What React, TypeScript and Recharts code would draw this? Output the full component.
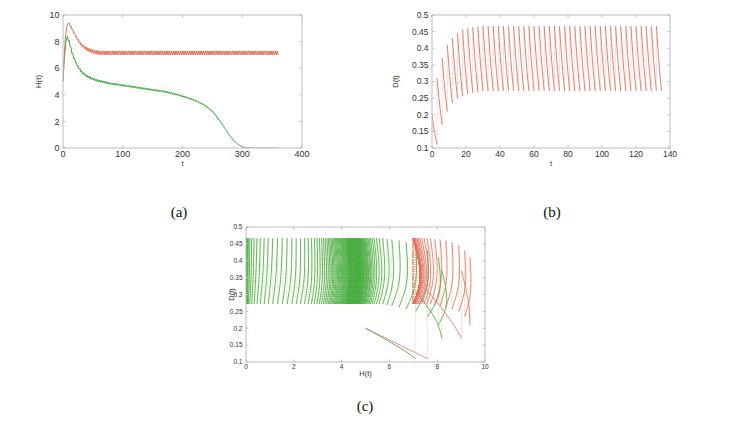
import React from 'react';
import { LineChart, Line, XAxis, YAxis, Label } from 'recharts';

// impulse times (period 3)
const impulseT = [
  0, 3, 6, 9, 12, 15, 18, 21, 24, 27,
  30, 33, 36, 39, 42, 45, 48, 51, 54, 57,
  60, 63, 66, 69, 72, 75, 78, 81, 84, 87,
  90, 93, 96, 99, 102, 105, 108, 111, 114, 117,
  120, 123, 126, 129, 132, 135, 138, 141, 144, 147,
  150, 153, 156, 159, 162, 165, 168, 171, 174, 177,
  180, 183, 186, 189, 192, 195, 198, 201, 204, 207,
  210, 213, 216, 219, 222, 225, 228, 231, 234, 237,
  240, 243, 246, 249, 252, 255, 258, 261, 264, 267,
  270, 273, 276, 279, 282, 285, 288, 291, 294, 297,
  300, 303, 306, 309, 312, 315, 318, 321, 324, 327,
  330, 333, 336, 339, 342, 345, 348, 351, 354, 357,
  360,
];

// D(t): value right after each impulse, half way, and just before the next one
const dAfter = [
  0.2, 0.31, 0.37, 0.41, 0.43, 0.445, 0.455, 0.46, 0.463, 0.465,
  0.467, 0.467, 0.467, 0.467, 0.467, 0.467, 0.467, 0.467, 0.467, 0.467,
  0.467, 0.467, 0.467, 0.467, 0.467, 0.467, 0.467, 0.467, 0.467, 0.467,
  0.467, 0.467, 0.467, 0.467, 0.467, 0.467, 0.467, 0.467, 0.467, 0.467,
  0.467, 0.467, 0.467, 0.467, 0.467, 0.467, 0.467, 0.467, 0.467, 0.467,
  0.467, 0.467, 0.467, 0.467, 0.467, 0.467, 0.467, 0.467, 0.467, 0.467,
  0.467, 0.467, 0.467, 0.467, 0.467, 0.467, 0.467, 0.467, 0.467, 0.467,
  0.467, 0.467, 0.467, 0.467, 0.467, 0.467, 0.467, 0.467, 0.467, 0.467,
  0.467, 0.467, 0.467, 0.467, 0.467, 0.467, 0.467, 0.467, 0.467, 0.467,
  0.467, 0.467, 0.467, 0.467, 0.467, 0.467, 0.467, 0.467, 0.467, 0.467,
  0.467, 0.467, 0.467, 0.467, 0.467, 0.467, 0.467, 0.467, 0.467, 0.467,
  0.467, 0.467, 0.467, 0.467, 0.467, 0.467, 0.467, 0.467, 0.467, 0.467,
];
const dMid = [
  0.148, 0.23, 0.279, 0.31, 0.328, 0.338, 0.345, 0.35, 0.353, 0.355,
  0.356, 0.356, 0.356, 0.356, 0.356, 0.356, 0.356, 0.356, 0.356, 0.356,
  0.356, 0.356, 0.356, 0.356, 0.356, 0.356, 0.356, 0.356, 0.356, 0.356,
  0.356, 0.356, 0.356, 0.356, 0.356, 0.356, 0.356, 0.356, 0.356, 0.356,
  0.356, 0.356, 0.356, 0.356, 0.356, 0.356, 0.356, 0.356, 0.356, 0.356,
  0.356, 0.356, 0.356, 0.356, 0.356, 0.356, 0.356, 0.356, 0.356, 0.356,
  0.356, 0.356, 0.356, 0.356, 0.356, 0.356, 0.356, 0.356, 0.356, 0.356,
  0.356, 0.356, 0.356, 0.356, 0.356, 0.356, 0.356, 0.356, 0.356, 0.356,
  0.356, 0.356, 0.356, 0.356, 0.356, 0.356, 0.356, 0.356, 0.356, 0.356,
  0.356, 0.356, 0.356, 0.356, 0.356, 0.356, 0.356, 0.356, 0.356, 0.356,
  0.356, 0.356, 0.356, 0.356, 0.356, 0.356, 0.356, 0.356, 0.356, 0.356,
  0.356, 0.356, 0.356, 0.356, 0.356, 0.356, 0.356, 0.356, 0.356, 0.356,
];
const dBefore = [
  0.11, 0.17, 0.21, 0.235, 0.25, 0.257, 0.262, 0.266, 0.269, 0.271,
  0.272, 0.272, 0.272, 0.272, 0.272, 0.272, 0.272, 0.272, 0.272, 0.272,
  0.272, 0.272, 0.272, 0.272, 0.272, 0.272, 0.272, 0.272, 0.272, 0.272,
  0.272, 0.272, 0.272, 0.272, 0.272, 0.272, 0.272, 0.272, 0.272, 0.272,
  0.272, 0.272, 0.272, 0.272, 0.272, 0.272, 0.272, 0.272, 0.272, 0.272,
  0.272, 0.272, 0.272, 0.272, 0.272, 0.272, 0.272, 0.272, 0.272, 0.272,
  0.272, 0.272, 0.272, 0.272, 0.272, 0.272, 0.272, 0.272, 0.272, 0.272,
  0.272, 0.272, 0.272, 0.272, 0.272, 0.272, 0.272, 0.272, 0.272, 0.272,
  0.272, 0.272, 0.272, 0.272, 0.272, 0.272, 0.272, 0.272, 0.272, 0.272,
  0.272, 0.272, 0.272, 0.272, 0.272, 0.272, 0.272, 0.272, 0.272, 0.272,
  0.272, 0.272, 0.272, 0.272, 0.272, 0.272, 0.272, 0.272, 0.272, 0.272,
  0.272, 0.272, 0.272, 0.272, 0.272, 0.272, 0.272, 0.272, 0.272, 0.272,
];

// H(t), red case: at each impulse time and half way between impulses
const hRedAt = [
  5, 7.6, 9.02, 9.37, 9.15, 8.9, 8.62, 8.36, 8.12, 7.9,
  7.72, 7.57, 7.45, 7.35, 7.27, 7.2, 7.15, 7.1, 7.07, 7.04,
  7.02, 7.01, 7, 7, 7, 7, 7, 7, 7, 7,
  7, 7, 7, 7, 7, 7, 7, 7, 7, 7,
  7, 7, 7, 7, 7, 7, 7, 7, 7, 7,
  7, 7, 7, 7, 7, 7, 7, 7, 7, 7,
  7, 7, 7, 7, 7, 7, 7, 7, 7, 7,
  7, 7, 7, 7, 7, 7, 7, 7, 7, 7,
  7, 7, 7, 7, 7, 7, 7, 7, 7, 7,
  7, 7, 7, 7, 7, 7, 7, 7, 7, 7,
  7, 7, 7, 7, 7, 7, 7, 7, 7, 7,
  7, 7, 7, 7, 7, 7, 7, 7, 7, 7,
  7,
];
const hRedMid = [
  6.5, 8.5, 9.3, 9.4, 9.18, 8.91, 8.64, 8.4, 8.18, 7.99,
  7.84, 7.73, 7.64, 7.56, 7.5, 7.45, 7.41, 7.37, 7.34, 7.33,
  7.31, 7.3, 7.3, 7.3, 7.3, 7.3, 7.3, 7.3, 7.3, 7.3,
  7.3, 7.3, 7.3, 7.3, 7.3, 7.3, 7.3, 7.3, 7.3, 7.3,
  7.3, 7.3, 7.3, 7.3, 7.3, 7.3, 7.3, 7.3, 7.3, 7.3,
  7.3, 7.3, 7.3, 7.3, 7.3, 7.3, 7.3, 7.3, 7.3, 7.3,
  7.3, 7.3, 7.3, 7.3, 7.3, 7.3, 7.3, 7.3, 7.3, 7.3,
  7.3, 7.3, 7.3, 7.3, 7.3, 7.3, 7.3, 7.3, 7.3, 7.3,
  7.3, 7.3, 7.3, 7.3, 7.3, 7.3, 7.3, 7.3, 7.3, 7.3,
  7.3, 7.3, 7.3, 7.3, 7.3, 7.3, 7.3, 7.3, 7.3, 7.3,
  7.3, 7.3, 7.3, 7.3, 7.3, 7.3, 7.3, 7.3, 7.3, 7.3,
  7.3, 7.3, 7.3, 7.3, 7.3, 7.3, 7.3, 7.3, 7.3, 7.3,
];

// H(t), green case
const hGreenAt = [
  5, 7.1, 8.2, 8.05, 7.6, 7.1, 6.7, 6.4, 6.1, 5.9,
  5.72, 5.57, 5.46, 5.36, 5.28, 5.21, 5.15, 5.1, 5.05, 5.01,
  4.97, 4.94, 4.91, 4.88, 4.85, 4.82, 4.79, 4.77, 4.75, 4.73,
  4.71, 4.69, 4.67, 4.65, 4.63, 4.61, 4.59, 4.57, 4.55, 4.53,
  4.51, 4.49, 4.47, 4.45, 4.43, 4.41, 4.39, 4.37, 4.35, 4.33,
  4.31, 4.29, 4.27, 4.25, 4.23, 4.21, 4.19, 4.16, 4.13, 4.1,
  4.07, 4.04, 4.01, 3.98, 3.94, 3.9, 3.86, 3.82, 3.78, 3.74,
  3.7, 3.65, 3.6, 3.55, 3.5, 3.44, 3.38, 3.31, 3.24, 3.16,
  3.07, 2.97, 2.86, 2.74, 2.6, 2.45, 2.28, 2.1, 1.92, 1.72,
  1.52, 1.32, 1.12, 0.93, 0.76, 0.6, 0.46, 0.34, 0.24, 0.16,
  0.1, 0.06, 0.04, 0.02, 0.01, 0.01, 0, 0, 0, 0,
  0, 0, 0, 0, 0, 0, 0, 0, 0, 0,
  0,
];
const hGreenMid = [
  6.3, 7.9, 8.4, 8.1, 7.57, 7.1, 6.74, 6.43, 6.17, 5.98,
  5.8, 5.68, 5.57, 5.47, 5.4, 5.33, 5.27, 5.22, 5.18, 5.13,
  5.1, 5.07, 5.04, 5.01, 4.98, 4.95, 4.92, 4.9, 4.88, 4.86,
  4.83, 4.81, 4.79, 4.77, 4.75, 4.73, 4.71, 4.69, 4.67, 4.65,
  4.63, 4.61, 4.59, 4.57, 4.55, 4.53, 4.51, 4.49, 4.46, 4.44,
  4.42, 4.4, 4.38, 4.36, 4.34, 4.32, 4.3, 4.27, 4.24, 4.21,
  4.17, 4.14, 4.11, 4.08, 4.04, 4, 3.96, 3.92, 3.87, 3.83,
  3.78, 3.73, 3.68, 3.63, 3.57, 3.51, 3.44, 3.37, 3.29, 3.2,
  3.1, 2.99, 2.88, 2.75, 2.6, 2.44, 2.26, 2.07, 1.88, 1.67,
  1.46, 1.25, 1.05, 0.87, 0.7, 0.55, 0.41, 0.3, 0.21, 0.14,
  0.085, 0.052, 0.032, 0.017, 0.012, 0.007, 0, 0, 0, 0,
  0, 0, 0, 0, 0, 0, 0, 0, 0, 0,
];

// axis ticks
const ticksTA = [0, 100, 200, 300, 400];
const ticksHA = [0, 2, 4, 6, 8, 10];
const ticksTB = [0, 20, 40, 60, 80, 100, 120, 140];
const ticksD = [0.1, 0.15, 0.2, 0.25, 0.3, 0.35, 0.4, 0.45, 0.5];
const ticksHC = [0, 2, 4, 6, 8, 10];
const tEndB = 135;

const RED = '#e26f5c';
const RED_DOT = '#f0a896';
const GREEN = '#3da83a';
const GREEN_DOT = '#bcd97e';
const AXIS = '#bdbdbd';
const TEXT = '#333';
const SANS = '"Liberation Sans", Arial, sans-serif';

type Pt = { x: number; y: number | null };

const overTime = (at: number[], mid: number[]): Pt[] => {
  const pts: Pt[] = [];
  mid.forEach((m, k) => {
    pts.push({ x: impulseT[k], y: at[k] });
    pts.push({ x: (impulseT[k] + impulseT[k + 1]) / 2, y: m });
  });
  pts.push({ x: impulseT[mid.length], y: at[mid.length] });
  return pts;
};

// D(t) teeth up to tEndB, and the dotted jumps between them
const dDecay: Pt[] = [];
const dJump: Pt[] = [];
dMid.forEach((m, k) => {
  const t0 = impulseT[k];
  const t1 = impulseT[k + 1];
  if (t1 > tEndB) return;
  dDecay.push({ x: t0, y: dAfter[k] }, { x: (t0 + t1) / 2, y: m }, { x: t1, y: dBefore[k] }, { x: t1, y: null });
  if (t1 < tEndB) dJump.push({ x: t1, y: dBefore[k] }, { x: t1, y: dAfter[k + 1] }, { x: t1, y: null });
});

// phase plane (H, D)
const phase = (h: number[], hm: number[]) => {
  const arcs: Pt[] = [];
  const jumps: Pt[] = [];
  hm.forEach((m, k) => {
    arcs.push({ x: h[k], y: dAfter[k] }, { x: m, y: dMid[k] }, { x: h[k + 1], y: dBefore[k] }, { x: h[k + 1], y: null });
    if (k + 1 < hm.length) jumps.push({ x: h[k + 1], y: dBefore[k] }, { x: h[k + 1], y: dAfter[k + 1] }, { x: h[k + 1], y: null });
  });
  return { arcs, jumps };
};
const phaseGreen = phase(hGreenAt, hGreenMid);
const phaseRed = phase(hRedAt, hRedMid);

type Series = { data: Pt[]; color: string; width: number; dash?: string; curve: 'linear' | 'natural' };

type PanelProps = {
  box: { left: number; top: number; w: number; h: number };
  xDomain: [number, number];
  xTicks: number[];
  yDomain: [number, number];
  yTicks: number[];
  tickSize: number;
  labelSize: number;
  xLabel: string;
  yLabel: string;
  xLabelDy: number;
  yLabelDx: number;
  series: Series[];
};

const TL = 2.5;

function Panel(p: PanelProps) {
  const W = p.box.w + 70;
  const H = p.box.h + 34;
  const fs = p.tickSize;

  const bottomTick = (t: any) => (
    <g>
      <line x1={t.x} y1={t.y} x2={t.x} y2={t.y - TL} stroke={AXIS} />
      <text x={t.x} y={t.y + fs * 0.8 + 2} textAnchor="middle" fontSize={fs} fill={TEXT} fontFamily={SANS}>
        {t.payload.value}
      </text>
    </g>
  );
  const leftTick = (t: any) => (
    <g>
      <line x1={t.x} y1={t.y} x2={t.x + TL} y2={t.y} stroke={AXIS} />
      <text x={t.x - 3.5} y={t.y + fs * 0.35} textAnchor="end" fontSize={fs} fill={TEXT} fontFamily={SANS}>
        {t.payload.value}
      </text>
    </g>
  );
  const topTick = (t: any) => <line x1={t.x} y1={t.y} x2={t.x} y2={t.y + TL} stroke={AXIS} />;
  const rightTick = (t: any) => <line x1={t.x - TL} y1={t.y} x2={t.x} y2={t.y} stroke={AXIS} />;

  const xTitle = (lp: any) => {
    const vb = lp.viewBox;
    return (
      <text x={vb.x + vb.width / 2} y={vb.y + p.xLabelDy} textAnchor="middle" fontSize={p.labelSize} fill={TEXT} fontFamily={SANS}>
        {p.xLabel}
      </text>
    );
  };
  const yTitle = (lp: any) => {
    const vb = lp.viewBox;
    const x = vb.x + vb.width - p.yLabelDx;
    const y = vb.y + vb.height / 2;
    return (
      <text x={x} y={y} transform={`rotate(-90 ${x} ${y})`} textAnchor="middle" dominantBaseline="central" fontSize={p.labelSize} fill={TEXT} fontFamily={SANS}>
        {p.yLabel}
      </text>
    );
  };

  return (
    <div style={{ position: 'absolute', left: p.box.left - 60, top: p.box.top - 6 }}>
      <LineChart width={W} height={H} margin={{ top: 5, right: 9, bottom: 6, left: 20 }}>
        <XAxis
          dataKey="x"
          type="number"
          domain={p.xDomain}
          ticks={p.xTicks}
          allowDataOverflow
          interval={0}
          height={22}
          tickSize={0}
          tickMargin={0}
          tick={bottomTick}
          axisLine={{ stroke: AXIS }}
        >
          <Label content={xTitle} />
        </XAxis>
        <XAxis
          xAxisId="top"
          orientation="top"
          dataKey="x"
          type="number"
          domain={p.xDomain}
          ticks={p.xTicks}
          allowDataOverflow
          interval={0}
          height={1}
          tickSize={0}
          tickMargin={0}
          tick={topTick}
          axisLine={{ stroke: AXIS }}
        />
        <YAxis
          type="number"
          domain={p.yDomain}
          ticks={p.yTicks}
          allowDataOverflow
          interval={0}
          width={40}
          tickSize={0}
          tickMargin={0}
          tick={leftTick}
          axisLine={{ stroke: AXIS }}
        >
          <Label content={yTitle} />
        </YAxis>
        <YAxis
          yAxisId="right"
          orientation="right"
          type="number"
          domain={p.yDomain}
          ticks={p.yTicks}
          allowDataOverflow
          interval={0}
          width={1}
          tickSize={0}
          tickMargin={0}
          tick={rightTick}
          axisLine={{ stroke: AXIS }}
        />
        {p.series.map((s, i) => (
          <Line
            key={i}
            data={s.data}
            dataKey="y"
            type={s.curve}
            stroke={s.color}
            strokeWidth={s.width}
            strokeDasharray={s.dash}
            dot={false}
            activeDot={false}
            isAnimationActive={false}
          />
        ))}
      </LineChart>
    </div>
  );
}

const caption: React.CSSProperties = {
  position: 'absolute',
  fontFamily: '"Liberation Serif", "DejaVu Serif", serif',
  fontSize: 15,
  color: '#111',
  transform: 'translateX(-50%)',
  lineHeight: '17px',
};

export default function App() {
  return (
    <div style={{ position: 'absolute', left: 0, top: 0, width: 743, height: 422, background: '#fff', overflow: 'hidden' }}>
      <Panel
        box={{ left: 63, top: 15, w: 239, h: 133 }}
        xDomain={[0, 400]}
        xTicks={ticksTA}
        yDomain={[0, 10]}
        yTicks={ticksHA}
        tickSize={9}
        labelSize={8}
        xLabel="t"
        yLabel="H(t)"
        xLabelDy={18}
        yLabelDx={25}
        series={[
          { data: overTime(hGreenAt, hGreenMid), color: GREEN, width: 1, curve: 'linear' },
          { data: overTime(hRedAt, hRedMid), color: RED, width: 1, curve: 'linear' },
        ]}
      />
      <Panel
        box={{ left: 432, top: 15, w: 238, h: 133 }}
        xDomain={[0, 140]}
        xTicks={ticksTB}
        yDomain={[0.1, 0.5]}
        yTicks={ticksD}
        tickSize={8.5}
        labelSize={7.5}
        xLabel="t"
        yLabel="D(t)"
        xLabelDy={18}
        yLabelDx={37}
        series={[
          { data: dJump, color: RED_DOT, width: 0.8, dash: '1 1.3', curve: 'linear' },
          { data: dDecay, color: RED, width: 0.9, curve: 'natural' },
        ]}
      />
      <Panel
        box={{ left: 246, top: 227, w: 239, h: 135 }}
        xDomain={[0, 10]}
        xTicks={ticksHC}
        yDomain={[0.1, 0.5]}
        yTicks={ticksD}
        tickSize={6.5}
        labelSize={7.5}
        xLabel="H(t)"
        yLabel="D(t)"
        xLabelDy={14}
        yLabelDx={15}
        series={[
          { data: phaseGreen.jumps, color: GREEN_DOT, width: 0.8, dash: '1 1.3', curve: 'linear' },
          { data: phaseRed.jumps, color: RED_DOT, width: 0.8, dash: '1 1.3', curve: 'linear' },
          { data: phaseGreen.arcs, color: GREEN, width: 0.8, curve: 'natural' },
          { data: phaseRed.arcs, color: RED, width: 0.8, curve: 'natural' },
        ]}
      />
      <div style={{ ...caption, left: 179, top: 204 }}>(a)</div>
      <div style={{ ...caption, left: 552, top: 204 }}>(b)</div>
      <div style={{ ...caption, left: 365, top: 398 }}>(c)</div>
    </div>
  );
}
